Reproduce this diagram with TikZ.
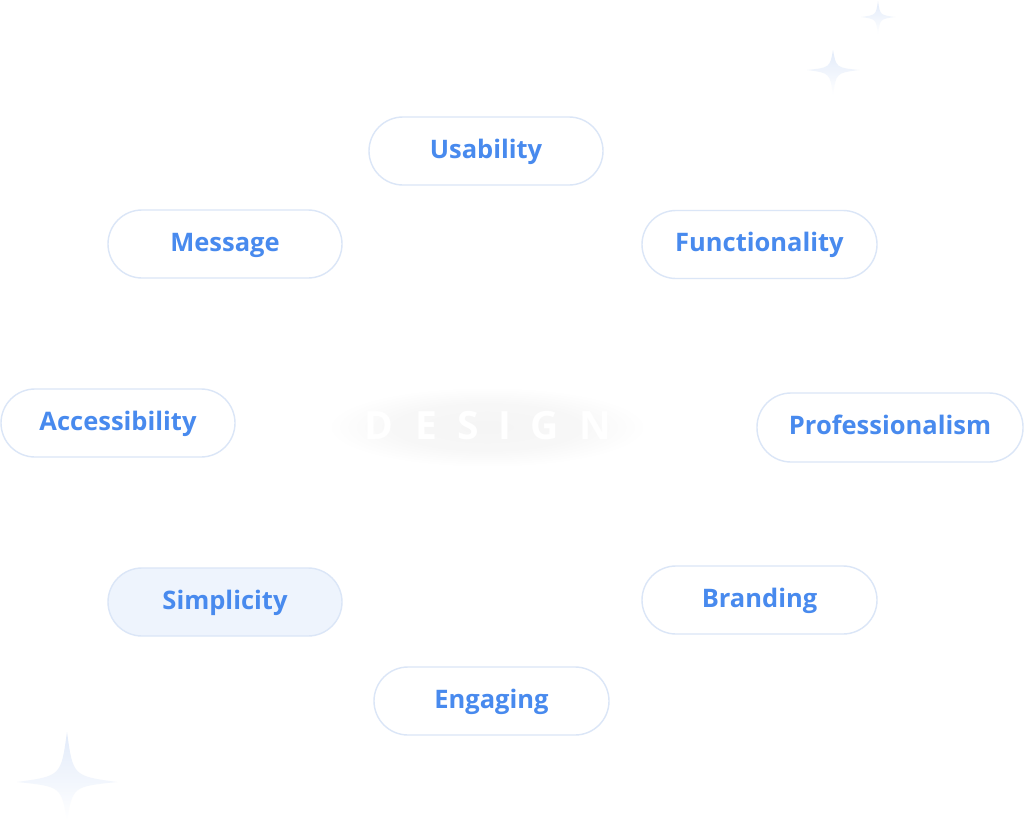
\documentclass[tikz,border=0pt]{standalone}
\usepackage{fontspec}
\setmainfont{Open Sans}
\usetikzlibrary{shapes.misc}
\definecolor{pillborder}{RGB}{219,230,247}
\definecolor{pilltext}{RGB}{72,138,238}
\definecolor{pillfill}{RGB}{238,244,253}
\definecolor{startop}{RGB}{226,235,250}
\pgfdeclareradialshading{designglow}{\pgfpoint{0bp}{0bp}}{color(0bp)=(black!4); color(15bp)=(black!3); color(25bp)=(white); color(50bp)=(white)}
\tikzset{
  pill/.style={draw=pillborder, line width=1.4pt, fill=white, rounded corners=34pt,
    minimum width=234pt, minimum height=68pt, inner sep=0pt,
    text height=19pt, text depth=5pt,
    text=pilltext, font=\fontsize{25.5}{28}\selectfont\bfseries},
  pillsel/.style={pill, fill=pillfill},
  letter/.style={text=white, inner sep=0pt, font=\fontsize{39}{40}\selectfont\bfseries},
  starshape/.style={top color=startop, bottom color=white, draw=none}
}
\newcommand{\sparkle}[5]{% cx cy halfw top bottom
  \shade[starshape] (#1,#2-#4) .. controls (#1+0.12*#3,#2-0.12*#4) .. (#1+#3,#2)
    .. controls (#1+0.12*#3,#2+0.12*#5) .. (#1,#2+#5)
    .. controls (#1-0.12*#3,#2+0.12*#5) .. (#1-#3,#2)
    .. controls (#1-0.12*#3,#2-0.12*#4) .. cycle;}
\begin{document}
\begin{tikzpicture}[x=1pt,y=-1pt]
\useasboundingbox (0,0) rectangle (1024,835);
\fill[white] (0,0) rectangle (1024,835);
% stars
\sparkle{878}{17}{17}{16}{17}
\sparkle{833}{70}{26}{20}{25}
\sparkle{67}{782}{50}{50}{38}
% glow behind DESIGN
\shade[shading=designglow] (487,427) ellipse [x radius=160, y radius=40];
\node[letter] (dD) at (378.5,426) {D};
\node[letter] (dE) at (426,426) {E};
\node[letter] (dS) at (468,426) {S};
\node[letter] (dI) at (505,426) {I};
\node[letter] (dG) at (545,426) {G};
\node[letter] (dN) at (595.5,426) {N};
% pills
\node[pill] (usability) at (486,151) {Usability};
\node[pill] (message) at (225,244) {Message};
\node[pill, minimum width=235pt] (functionality) at (759.5,244.5) {Functionality};
\node[pill] (accessibility) at (118,423) {Accessibility};
\node[pill, minimum width=266pt, minimum height=69pt] (professionalism) at (890,427.5) {Professionalism};
\node[pillsel] (simplicity) at (225,602) {Simplicity};
\node[pill, minimum width=235pt] (branding) at (759.5,600) {Branding};
\node[pill, minimum width=235pt] (engaging) at (491.5,701) {Engaging};
\end{tikzpicture}
\end{document}
